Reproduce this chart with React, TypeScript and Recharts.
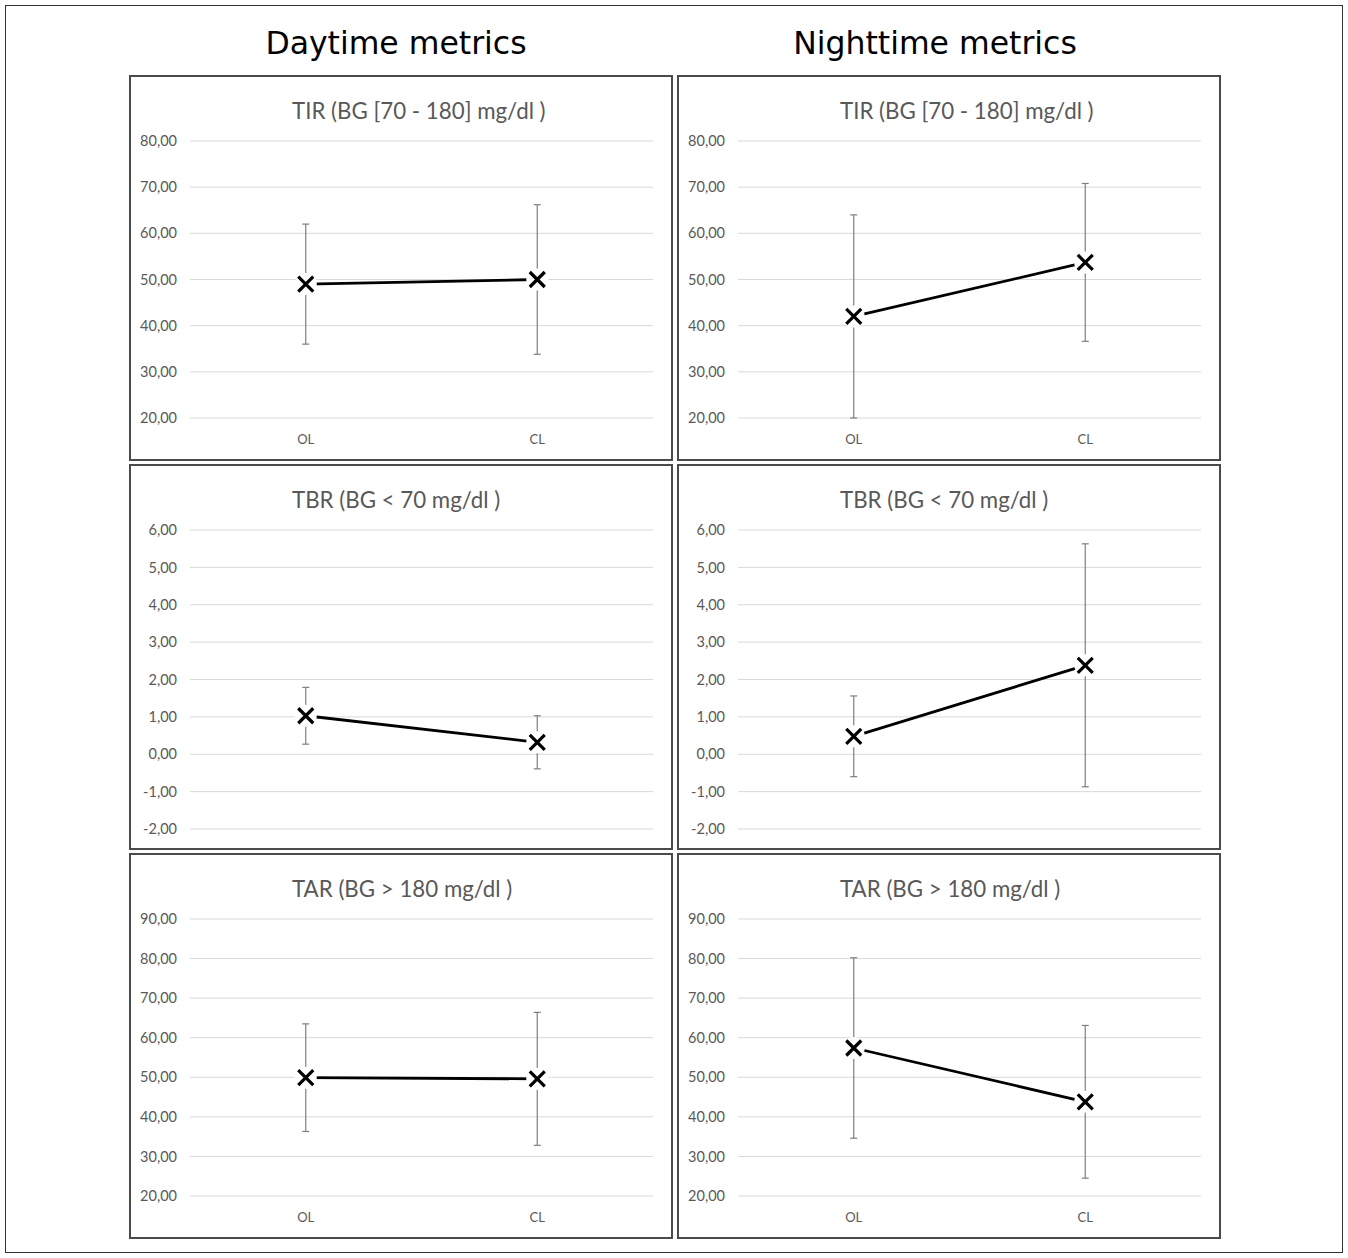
import React from 'react';
import { LineChart, Line, XAxis, YAxis, CartesianGrid, ErrorBar } from 'recharts';

const categories = ['OL', 'CL'];

const dayTirMean = [49.0, 50.0];
const dayTirSd = [13.0, 16.2];
const nightTirMean = [42.0, 53.7];
const nightTirSd = [22.0, 17.1];

const dayTbrMean = [1.03, 0.32];
const dayTbrSd = [0.76, 0.71];
const nightTbrMean = [0.48, 2.38];
const nightTbrSd = [1.08, 3.25];

const dayTarMean = [49.9, 49.6];
const dayTarSd = [13.6, 16.8];
const nightTarMean = [57.4, 43.8];
const nightTarSd = [22.8, 19.3];

const tirTicks = [20, 30, 40, 50, 60, 70, 80];
const tbrTicks = [-2, -1, 0, 1, 2, 3, 4, 5, 6];
const tarTicks = [20, 30, 40, 50, 60, 70, 80, 90];

const tirTitle = 'TIR (BG [70 - 180] mg/dl )';
const tbrTitle = 'TBR (BG < 70 mg/dl )';
const tarTitle = 'TAR (BG > 180 mg/dl )';

const PANEL_W = 544;
const PANEL_H = 386;
const GRAY_TEXT = '#595959';
const LABEL_FONT = 'Lato, "Open Sans", sans-serif';

const fmt = (v: number) => v.toFixed(2).replace('.', ',');

const XDot = (props: any) => {
  const { cx, cy, index } = props;
  if (cx == null || cy == null) return null;
  const s = 7.5;
  return (
    <g key={`xdot-${index}`}>
      <circle cx={cx} cy={cy} r={11} fill="#ffffff" />
      <path
        d={`M${cx - s},${cy - s}L${cx + s},${cy + s}M${cx - s},${cy + s}L${cx + s},${cy - s}`}
        stroke="#000000"
        strokeWidth={3.2}
        fill="none"
      />
    </g>
  );
};

type PanelProps = {
  left: number;
  top: number;
  title: string;
  mean: number[];
  sd: number[];
  ticks: number[];
  showX: boolean;
};

const Panel = ({ left, top, title, mean, sd, ticks, showX }: PanelProps) => {
  const data = categories.map((c, i) => ({ name: c, mean: mean[i], sd: sd[i] }));
  const domain = [ticks[0], ticks[ticks.length - 1]];
  return (
    <div style={{ position: 'absolute', left, top, width: PANEL_W, height: PANEL_H }}>
      <div
        style={{
          position: 'absolute',
          left: 0,
          top: 0,
          width: PANEL_W,
          height: PANEL_H,
          boxSizing: 'border-box',
          border: '2px solid #4a4a4a',
        }}
      />
      <div
        style={{
          position: 'absolute',
          left: 163,
          top: 24,
          height: 24,
          lineHeight: '24px',
          whiteSpace: 'nowrap',
          fontFamily: LABEL_FONT,
          fontSize: 22.3,
          color: GRAY_TEXT,
        }}
      >
        {title}
      </div>
      <div style={{ position: 'absolute', left: 0, top: 0 }}>
        <LineChart
          width={PANEL_W}
          height={PANEL_H}
          data={data}
          margin={{ top: 66, right: 20, left: 0, bottom: showX ? 0 : 21 }}
        >
          <CartesianGrid vertical={false} stroke="#d9d9d9" strokeWidth={1} />
          <XAxis
            dataKey="name"
            type="category"
            scale="band"
            hide={!showX}
            axisLine={false}
            tickLine={false}
            height={43}
            tickMargin={11}
            tick={{ fill: GRAY_TEXT, fontSize: 13, fontFamily: LABEL_FONT }}
          />
          <YAxis
            type="number"
            domain={domain}
            ticks={ticks}
            interval={0}
            width={61}
            axisLine={false}
            tickLine={false}
            tickMargin={7}
            tickFormatter={fmt}
            tick={{ fill: GRAY_TEXT, fontSize: 14.5, fontFamily: LABEL_FONT }}
          />
          <Line
            dataKey="mean"
            stroke="#000000"
            strokeWidth={2.8}
            isAnimationActive={false}
            dot={<XDot />}
            activeDot={false}
          >
            <ErrorBar dataKey="sd" direction="y" width={3.5} stroke="#7f7f7f" strokeWidth={1.2} />
          </Line>
        </LineChart>
      </div>
    </div>
  );
};

const bigTitleStyle: React.CSSProperties = {
  position: 'absolute',
  width: 400,
  top: 24,
  textAlign: 'center',
  fontFamily: '"DejaVu Sans", sans-serif',
  fontSize: 31.5,
  lineHeight: '38px',
  color: '#000',
};

export default function App() {
  return (
    <div
      style={{
        position: 'absolute',
        left: 0,
        top: 0,
        width: 1348,
        height: 1258,
        background: '#ffffff',
        overflow: 'hidden',
      }}
    >
      <div
        style={{
          position: 'absolute',
          left: 5,
          top: 5,
          width: 1338,
          height: 1248,
          boxSizing: 'border-box',
          border: '1.5px solid #333333',
        }}
      />
      <div style={{ ...bigTitleStyle, left: 196 }}>Daytime metrics</div>
      <div style={{ ...bigTitleStyle, left: 735 }}>Nighttime metrics</div>
      <Panel left={129} top={75} title={tirTitle} mean={dayTirMean} sd={dayTirSd} ticks={tirTicks} showX={true} />
      <Panel left={677} top={75} title={tirTitle} mean={nightTirMean} sd={nightTirSd} ticks={tirTicks} showX={true} />
      <Panel left={129} top={464} title={tbrTitle} mean={dayTbrMean} sd={dayTbrSd} ticks={tbrTicks} showX={false} />
      <Panel left={677} top={464} title={tbrTitle} mean={nightTbrMean} sd={nightTbrSd} ticks={tbrTicks} showX={false} />
      <Panel left={129} top={853} title={tarTitle} mean={dayTarMean} sd={dayTarSd} ticks={tarTicks} showX={true} />
      <Panel left={677} top={853} title={tarTitle} mean={nightTarMean} sd={nightTarSd} ticks={tarTicks} showX={true} />
    </div>
  );
}
